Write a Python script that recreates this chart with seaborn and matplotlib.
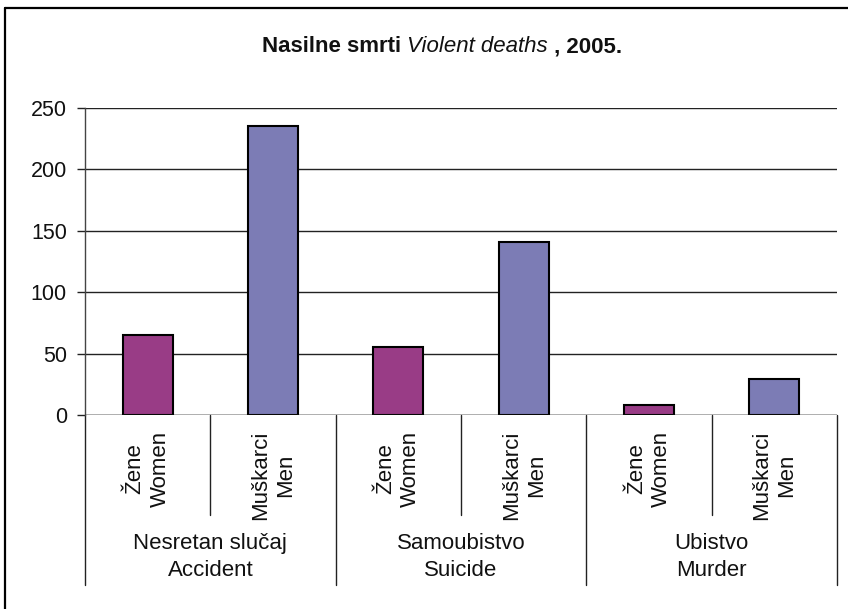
import numpy as np
import pandas as pd
import matplotlib
matplotlib.use("Agg")
import matplotlib.pyplot as plt
import matplotlib.transforms as mtransforms
from matplotlib.lines import Line2D
import seaborn as sns

## chart data
causes_sr = ["Nesretan slučaj", "Samoubistvo", "Ubistvo"]
causes_en = ["Accident", "Suicide", "Murder"]
sex_labels = ["Žene\nWomen", "Muškarci\nMen"]
women = [65, 55, 8]
men = [235, 141, 29]

colors = {"Žene\nWomen": "#993C86", "Muškarci\nMen": "#7C7CB5"}


## long table, one row per bar
rows = []
for i in range(len(causes_en)):
	rows.append({"slot": causes_en[i] + "_w", "sex": sex_labels[0], "deaths": women[i]})
	rows.append({"slot": causes_en[i] + "_m", "sex": sex_labels[1], "deaths": men[i]})
df = pd.DataFrame(rows)

sns.set_theme(style="white")
plt.rcParams['font.family'] = ['Liberation Sans', 'DejaVu Sans']

W, H = 848, 609
fig = plt.figure(figsize=(W/100, H/100), dpi=100)
ax_l, ax_r, ax_t, ax_b = 85, 837, 108, 415
ax = fig.add_axes([ax_l/W, 1 - ax_b/H, (ax_r-ax_l)/W, (ax_b-ax_t)/H])

sns.barplot(data=df, x="slot", y="deaths", hue="sex", palette=colors,
			dodge=False, width=0.4, edgecolor="black", linewidth=1.5,
			saturation=1, legend=False, ax=ax, zorder=3)

ax.set_xlim(-0.5, len(df) - 0.5)
ax.set_ylim(0, 250)
ax.set_yticks(np.arange(0, 251, 50))
ax.yaxis.grid(True, color="#222222", linewidth=1.0, zorder=0)
ax.xaxis.grid(False)
ax.set_xticks([])
ax.set_xlabel("")
ax.set_ylabel("")
for s in ["top", "right", "bottom"]:
	ax.spines[s].set_visible(False)
ax.spines["left"].set_color("#444444")
ax.spines["left"].set_linewidth(1.0)
ax.tick_params(axis="y", left=True, length=6, width=1.0, color="#222222",
			   pad=7, labelsize=15.5, labelcolor="#111111")

## axis along zero
ax.axhline(0, color="#222222", linewidth=1.0, zorder=4)

## category separators and labels under the axis
trans = mtransforms.blended_transform_factory(ax.transData, ax.transAxes)
px = 1.0 / (ax_b - ax_t)
for k in range(len(df) + 1):
	x = k - 0.5
	bottom = -(585 - ax_b) * px if k % 2 == 0 else -(515 - ax_b) * px
	ax.add_line(Line2D([x, x], [0, bottom], transform=trans, color="#222222",
					   linewidth=1.0, clip_on=False))

for k in range(len(df)):
	ax.text(k, -(431 - ax_b) * px, df["sex"][k], transform=trans, rotation=90,
			ha="center", va="top", multialignment="center", fontsize=16,
			linespacing=1.25, color="#111111")

for i in range(len(causes_en)):
	ax.text(2*i + 0.5, -(533 - ax_b) * px, causes_sr[i] + "\n" + causes_en[i],
			transform=trans, ha="center", va="top", fontsize=16,
			linespacing=1.4, color="#111111")

## title: bold / italic / bold pieces
t1 = fig.text(262/W, 1 - 52/H, "Nasilne smrti ", fontsize=16, fontweight="bold",
			  ha="left", va="baseline", color="#111111")
t2 = ax.annotate("Violent deaths", xy=(1, 0), xycoords=t1, fontsize=16,
				 fontstyle="italic", ha="left", va="bottom", color="#111111")
t3 = ax.annotate(" , 2005.", xy=(1, 0), xycoords=t2, fontsize=16,
				 fontweight="bold", ha="left", va="bottom", color="#111111")

## outer frame (top and left edges visible)
fig.add_artist(Line2D([5/W, 1.0], [1 - 8/H, 1 - 8/H], transform=fig.transFigure,
					  color="black", linewidth=1.6))
fig.add_artist(Line2D([5/W, 5/W], [0, 1 - 8/H], transform=fig.transFigure,
					  color="black", linewidth=1.6))

fig.savefig("out.png", dpi=100)
